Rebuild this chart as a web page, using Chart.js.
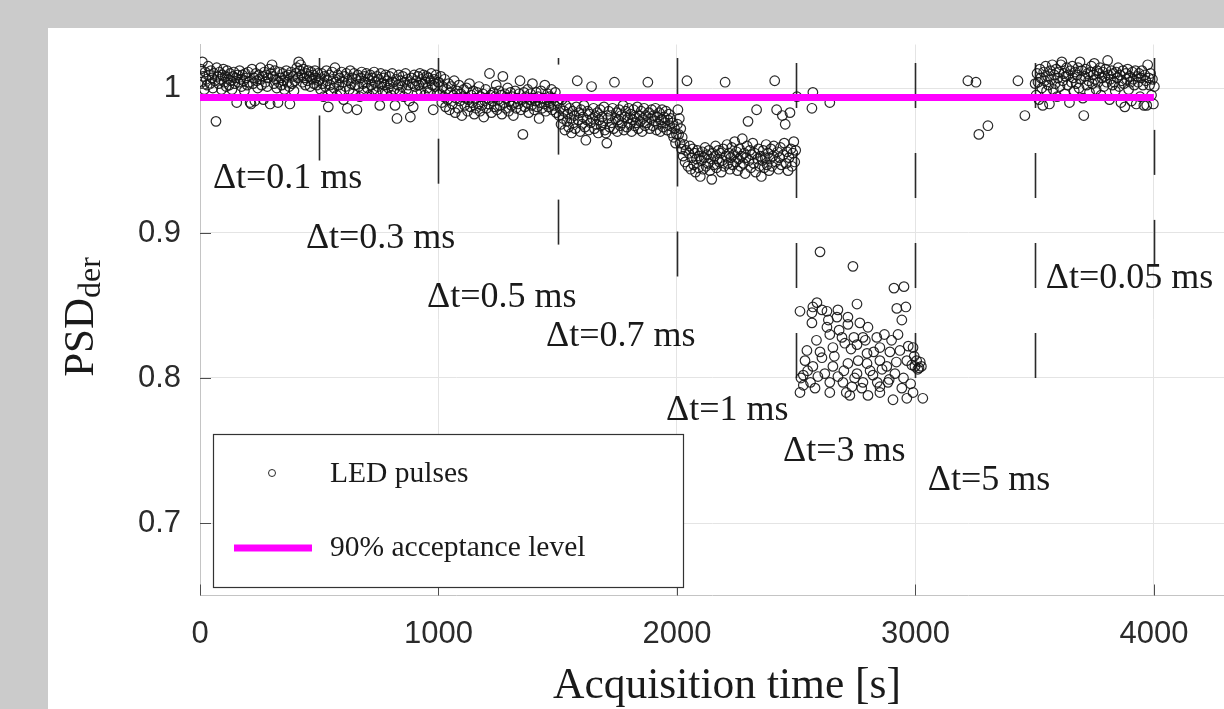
<!DOCTYPE html>
<html><head><meta charset="utf-8">
<script src="https://cdn.jsdelivr.net/npm/chart.js@4.4.1/dist/chart.umd.min.js"></script>
<style>
html,body{margin:0;padding:0;background:#cbcbcb;overflow:hidden;}
#wrap{position:absolute;left:0;top:0;width:1224px;height:709px;}
</style></head><body>
<div id="wrap"><canvas id="c" width="1224" height="709"></canvas></div>
<script>
// ---------- data ----------
// LED pulses: [acquisition time (s), PSD_der]
const segA = [[3,1.013],[7,1.004],[10,1.018],[14,1.008],[18,0.999],[22,1.011],[26,1.006],[30,1.002],[34,1.015],[38,1.009],[42,1.003],[46,1.012],[50,1.007],[54,1.000],[58,1.010],[62,1.005],[67,0.977],[70,1.014],[74,1.008],[78,1.003],[82,1.011],[86,1.006],[90,0.999],[94,1.009],[98,1.013],[102,1.004],[106,1.008],[110,1.001],[114,1.012],[118,1.006],[122,1.002],[126,1.010],[130,1.005],[134,0.999],[138,1.008],[142,1.011],[146,1.003],[150,1.007],[154,0.990],[158,1.009],[162,1.004],[166,1.012],[170,1.006],[174,1.001],[178,1.009],[182,1.005],[186,0.998],[190,1.010],[194,1.007],[198,1.002],[202,1.011],[206,1.004],[210,0.990],[214,0.989],[218,1.013],[222,1.003],[226,1.007],[230,0.991],[234,1.010],[238,1.005],[242,1.000],[246,1.009],[250,1.006],[254,1.014],[258,1.002],[262,1.008],[266,0.992],[270,1.011],[274,1.004],[278,1.009],[282,1.001],[286,1.007],[290,1.013],[294,0.989],[298,1.010],[302,1.016],[306,1.008],[310,1.003],[314,1.012],[318,1.006],[322,1.000],[327,0.990],[330,1.004],[334,1.011],[338,1.007],[342,1.002],[346,1.010],[350,1.005],[354,0.999],[358,1.008],[362,1.012],[366,1.004],[370,1.009],[374,1.001],[377,0.989],[382,1.011],[386,1.003],[390,1.008],[394,0.998],[398,1.005],[402,1.010],[406,1.014],[410,1.007],[414,1.018],[418,1.012],[422,1.016],[426,1.009],[430,1.004],[434,1.013],[438,1.007],[442,1.002],[446,1.010],[450,1.005],[454,1.012],[458,1.008],[462,1.001],[466,1.011],[470,1.006],[474,1.009],[478,1.003],[482,1.012],[486,1.007],[490,1.002],[494,1.010],[498,1.005]];
const segB = [[502,1.006],[506,0.999],[510,1.010],[514,1.003],[518,0.994],[522,1.008],[526,1.001],[530,1.012],[534,1.005],[538,0.987],[542,1.009],[546,1.002],[550,0.997],[554,1.011],[558,1.006],[562,1.000],[566,1.014],[570,1.004],[574,0.995],[578,1.009],[582,1.002],[586,1.007],[590,0.998],[594,1.011],[598,1.004],[602,0.992],[606,1.008],[610,1.001],[614,1.010],[618,0.986],[622,1.005],[626,0.999],[630,1.012],[634,1.003],[638,1.007],[642,0.996],[646,1.010],[650,1.002],[654,1.006],[658,0.985],[662,1.009],[666,1.001],[670,0.994],[674,1.007],[678,1.011],[682,1.003],[686,0.998],[690,1.008],[694,1.004],[698,1.010],[702,1.000],[706,1.006],[710,0.995],[714,1.009],[718,1.002],[722,1.007],[726,0.999],[730,1.011],[734,1.004],[738,0.997],[742,1.008],[746,1.001],[750,1.006],[754,0.988],[758,1.010],[762,1.003],[766,0.998],[770,1.007],[774,1.002],[778,1.009],[782,0.996],[786,1.005],[790,1.000],[794,1.008],[798,1.003],[802,0.995],[806,1.010],[810,1.004],[814,0.999],[818,0.988],[822,1.006],[826,0.979],[830,1.002],[834,1.009],[838,0.997],[842,1.005],[846,1.001],[850,1.008],[854,0.994],[858,1.004],[862,1.010],[866,0.999],[870,1.006],[874,1.002],[878,0.991],[882,0.980],[886,1.007],[890,1.003],[894,0.987],[898,1.009],[902,1.001],[906,1.005],[910,0.996],[914,1.008],[918,1.002],[922,1.010],[926,0.998],[930,1.006],[934,1.003],[938,1.009],[942,0.995],[946,1.004],[950,1.008],[954,1.000],[958,1.007],[962,0.997],[966,1.005],[970,1.010],[974,1.002],[978,0.985],[982,1.006],[986,1.001],[990,1.009],[994,0.996],[998,1.004]];
const segC = [[1002,1.004],[1006,0.996],[1010,1.008],[1014,0.990],[1018,1.001],[1022,0.994],[1026,1.006],[1030,0.987],[1034,0.999],[1038,0.992],[1042,1.003],[1046,0.985],[1050,0.997],[1054,1.001],[1058,0.989],[1062,0.995],[1066,1.005],[1070,0.983],[1074,0.993],[1078,0.998],[1082,0.986],[1086,1.002],[1090,0.991],[1094,0.996],[1098,0.981],[1102,0.994],[1106,0.999],[1110,0.988],[1114,0.993],[1118,1.000],[1122,0.984],[1126,0.992],[1130,1.003],[1134,0.987],[1138,0.995],[1142,0.990],[1146,0.998],[1150,0.982],[1154,0.993],[1158,0.986],[1162,0.997],[1166,0.989],[1170,1.001],[1174,0.984],[1178,0.994],[1182,0.988],[1186,0.996],[1190,0.980],[1194,0.991],[1198,0.999],[1202,0.986],[1206,0.993],[1210,0.989],[1214,1.010],[1218,0.995],[1222,0.983],[1226,0.991],[1230,0.997],[1234,0.987],[1238,0.994],[1242,1.002],[1246,0.985],[1250,0.992],[1254,0.998],[1258,0.988],[1262,0.995],[1266,0.982],[1270,1.008],[1274,0.990],[1278,0.996],[1282,0.986],[1286,0.993],[1290,1.000],[1294,0.984],[1298,0.991],[1302,0.997],[1306,0.988],[1310,0.994],[1314,0.981],[1318,0.990],[1322,0.998],[1326,0.986],[1330,0.993],[1334,0.989],[1338,0.996],[1342,1.005],[1346,0.985],[1350,0.992],[1354,0.968],[1358,0.997],[1362,0.987],[1366,0.994],[1370,0.990],[1374,0.999],[1378,0.983],[1382,0.992],[1386,0.996],[1390,0.988],[1394,1.003],[1398,0.993],[1402,0.985],[1406,0.991],[1410,0.997],[1414,0.987],[1418,0.994],[1422,0.979],[1426,0.990],[1430,0.998],[1434,0.986],[1438,0.993],[1442,0.989],[1446,1.002],[1450,0.984],[1454,0.992],[1458,0.996],[1462,0.987],[1466,0.994],[1470,0.990],[1474,0.999],[1478,0.985],[1482,0.993],[1486,0.988],[1490,0.997],[1494,0.983],[1498,0.991]];
const segD = [[1502,0.990],[1506,0.981],[1510,0.986],[1514,0.975],[1518,0.992],[1522,0.979],[1526,0.984],[1530,0.971],[1534,0.988],[1538,0.977],[1542,0.982],[1546,0.973],[1550,0.986],[1554,0.979],[1558,0.969],[1562,0.984],[1566,0.976],[1570,0.981],[1574,0.972],[1578,0.987],[1582,1.005],[1586,0.978],[1590,0.983],[1594,0.970],[1598,0.985],[1602,0.975],[1606,0.980],[1610,0.988],[1614,0.973],[1618,0.964],[1622,0.978],[1626,0.984],[1630,0.971],[1634,0.982],[1638,0.976],[1642,1.001],[1646,0.979],[1650,0.986],[1654,0.972],[1658,0.981],[1662,0.975],[1666,0.983],[1670,0.969],[1674,0.978],[1678,0.985],[1682,0.974],[1686,0.980],[1690,0.976],[1694,0.987],[1698,0.971],[1702,0.969],[1706,0.962],[1710,0.979],[1714,0.984],[1718,0.973],[1722,0.981],[1726,0.976],[1730,0.986],[1734,0.972],[1738,1.004],[1742,0.979],[1746,0.983],[1750,0.970],[1754,0.978],[1758,0.985],[1762,0.974],[1766,0.981],[1770,0.976],[1774,0.988],[1778,0.971],[1782,0.980],[1786,0.984],[1790,0.973],[1794,0.979],[1798,0.986],[1802,0.975],[1806,0.982],[1810,0.970],[1814,0.978],[1818,0.985],[1822,0.974],[1826,0.980],[1830,0.976],[1834,0.987],[1838,0.972],[1842,0.981],[1846,0.977],[1850,0.984],[1854,0.970],[1858,0.979],[1862,0.986],[1866,0.974],[1870,0.981],[1874,0.976],[1878,1.004],[1882,0.983],[1886,0.972],[1890,0.979],[1894,0.985],[1898,0.974],[1902,0.981],[1906,0.977],[1910,0.986],[1914,0.971],[1918,0.980],[1922,0.975],[1926,0.983],[1930,0.970],[1934,0.978],[1938,0.985],[1942,0.973],[1946,0.980],[1950,0.976],[1954,0.984],[1958,0.971],[1962,0.978],[1966,0.982],[1970,0.974],[1974,0.979],[1978,0.969],[1982,0.976],[1986,0.966],[1990,0.972],[1994,0.962],[1998,0.968]];
const segE = [[2002,0.975],[2004,0.985],[2007,0.968],[2010,0.979],[2013,0.962],[2016,0.972],[2019,0.958],[2022,0.966],[2026,0.953],[2030,0.961],[2034,0.949],[2038,0.957],[2042,1.005],[2046,0.946],[2050,0.955],[2054,0.960],[2058,0.944],[2062,0.952],[2066,0.958],[2070,0.947],[2074,0.955],[2078,0.942],[2082,0.951],[2086,0.957],[2090,0.945],[2094,0.953],[2098,0.939],[2102,0.950],[2106,0.956],[2110,0.944],[2114,0.952],[2118,0.959],[2122,0.946],[2126,0.954],[2130,0.948],[2134,0.957],[2138,0.943],[2142,0.951],[2146,0.937],[2150,0.955],[2154,0.947],[2158,0.953],[2162,0.960],[2166,0.945],[2170,0.951],[2174,0.957],[2178,0.949],[2182,0.955],[2186,0.942],[2190,0.950],[2194,0.958],[2198,0.946],[2202,1.004],[2206,0.953],[2210,0.961],[2214,0.948],[2218,0.955],[2222,0.944],[2226,0.952],[2230,0.959],[2234,0.947],[2238,0.954],[2242,0.963],[2246,0.949],[2250,0.956],[2254,0.943],[2258,0.951],[2262,0.958],[2266,0.946],[2270,0.953],[2274,0.965],[2278,0.948],[2282,0.955],[2286,0.941],[2290,0.952],[2294,0.960],[2298,0.977],[2302,0.950],[2306,0.957],[2310,0.945],[2314,0.954],[2318,0.962],[2322,0.948],[2326,0.955],[2330,0.942],[2334,0.985],[2338,0.951],[2342,0.958],[2346,0.946],[2350,0.953],[2354,0.939],[2358,0.950],[2362,0.957],[2366,0.945],[2370,0.952],[2374,0.961],[2378,0.947],[2382,0.955],[2386,0.943],[2390,0.951],[2394,0.958],[2398,0.946],[2402,0.953],[2406,0.960],[2410,1.005],[2414,0.949],[2418,0.985],[2422,0.956],[2426,0.944],[2430,0.952],[2434,0.959],[2438,0.947],[2442,0.981],[2446,0.954],[2450,0.962],[2454,0.975],[2458,0.948],[2462,0.956],[2466,0.943],[2470,0.952],[2474,0.983],[2478,0.958],[2482,0.946],[2486,0.955],[2490,0.963],[2494,0.949],[2498,0.957]];
const segF = [[2503,0.994],[2516,0.846],[2516,0.790],[2520,0.800],[2530,0.802],[2530,0.795],[2537,0.812],[2545,0.819],[2548,0.805],[2560,0.797],[2566,0.845],[2566,0.838],[2566,0.986],[2570,0.997],[2570,0.808],[2570,0.849],[2579,0.793],[2585,0.826],[2587,0.852],[2591,0.801],[2600,0.887],[2600,0.818],[2608,0.847],[2608,0.814],[2620,0.803],[2629,0.846],[2629,0.835],[2635,0.840],[2641,0.830],[2641,0.797],[2641,0.790],[2641,0.990],[2654,0.821],[2654,0.808],[2660,0.815],[2671,0.842],[2675,0.847],[2675,0.801],[2680,0.833],[2692,0.828],[2696,0.797],[2700,0.805],[2704,0.824],[2710,0.790],[2717,0.837],[2717,0.810],[2717,0.842],[2725,0.788],[2730,0.820],[2734,0.794],[2738,0.877],[2742,0.828],[2745,0.800],[2755,0.851],[2755,0.823],[2755,0.803],[2760,0.812],[2767,0.838],[2775,0.793],[2780,0.828],[2780,0.797],[2790,0.826],[2797,0.817],[2797,0.810],[2801,0.835],[2801,0.788],[2810,0.805],[2822,0.802],[2825,0.818],[2838,0.828],[2840,0.797],[2851,0.821],[2851,0.812],[2851,0.794],[2851,0.790],[2860,0.806],[2870,0.830],[2880,0.808],[2885,0.797],[2890,0.799],[2893,0.818],[2900,0.826],[2906,0.785],[2910,0.862],[2914,0.803],[2920,0.811],[2922,0.848],[2927,0.830],[2935,0.819],[2943,0.840],[2943,0.793],[2950,0.800],[2952,0.863],[2960,0.849],[2964,0.812],[2964,0.786],[2970,0.822],[2980,0.796],[2985,0.809],[2990,0.821],[2990,0.790],[2995,0.815],[2998,0.808],[3005,0.812],[3010,0.806],[3015,0.807],[3020,0.811],[3025,0.808],[3031,0.786]];
const segG = [[3220,1.005],[3254,1.004],[3266,0.968],[3304,0.974],[3430,1.005],[3459,0.981]];
const segH = [[3502,1.003],[3506,0.995],[3510,1.010],[3514,1.004],[3518,0.992],[3522,1.013],[3526,1.007],[3530,1.000],[3534,0.988],[3538,1.011],[3542,1.005],[3546,1.015],[3550,0.998],[3554,1.008],[3558,1.002],[3562,0.989],[3566,1.012],[3570,1.006],[3574,1.016],[3578,0.999],[3582,1.009],[3586,1.003],[3590,1.013],[3594,0.994],[3598,1.007],[3602,1.011],[3606,1.001],[3610,1.016],[3614,1.018],[3618,1.005],[3622,1.010],[3626,0.996],[3630,1.008],[3634,1.014],[3638,1.002],[3642,1.009],[3646,0.990],[3650,1.012],[3654,1.004],[3658,1.015],[3662,1.007],[3666,0.998],[3670,1.011],[3674,1.003],[3678,1.009],[3682,1.014],[3686,1.000],[3690,1.018],[3694,1.006],[3698,1.012],[3702,0.993],[3706,0.981],[3710,1.008],[3714,1.013],[3718,1.002],[3722,1.010],[3726,1.005],[3730,0.997],[3734,1.011],[3738,1.015],[3742,1.003],[3746,1.009],[3750,1.017],[3754,1.006],[3758,0.999],[3762,1.012],[3766,1.004],[3770,1.010],[3774,1.014],[3778,0.995],[3782,1.007],[3786,1.011],[3790,1.001],[3794,1.008],[3798,1.013],[3802,1.004],[3806,1.019],[3810,1.009],[3814,0.992],[3818,1.006],[3822,1.012],[3826,1.002],[3830,1.010],[3834,1.004],[3838,0.998],[3842,1.011],[3846,1.007],[3850,1.014],[3854,1.001],[3858,1.009],[3862,0.990],[3866,1.005],[3870,1.012],[3874,1.003],[3878,0.987],[3882,1.010],[3886,1.006],[3890,1.013],[3894,0.999],[3898,1.008],[3902,1.004],[3906,0.991],[3910,1.011],[3914,1.006],[3918,1.002],[3922,1.012],[3926,0.989],[3930,1.008],[3934,1.004],[3938,1.010],[3942,0.994],[3946,1.007],[3950,1.012],[3954,1.002],[3958,0.988],[3962,1.009],[3966,1.005],[3970,0.988],[3974,1.016],[3978,1.007],[3982,1.002],[3986,1.010],[3990,0.995],[3994,1.006],[3998,0.989],[4002,1.001]];

// 90% acceptance level
const acceptanceLevel = 0.9935;
const acceptanceSpan = [0, 4000];

// axes
const xTicks = [0, 1000, 2000, 3000, 4000];
const yTicks = [0.7, 0.8, 0.9, 1];
const xRange = [0, 4294];
const yRange = [0.65, 1.03];

// interval boundaries (s) and their lower end (PSD)
const boundaries = [500, 1000, 1500, 2000, 2500, 3000, 3500, 4000];
const boundaryLow = [0.950, 0.934, 0.892, 0.870, 0.800, 0.800, 0.800, 0.878];
const boundaryHigh = 1.0207;

// interval labels and their anchor [time, PSD]
const intervalLabels = ['Δt=0.1 ms','Δt=0.3 ms','Δt=0.5 ms','Δt=0.7 ms','Δt=1 ms','Δt=3 ms','Δt=5 ms','Δt=0.05 ms'];
const labelAnchors = [[54,0.931],[444,0.890],[952,0.849],[1451,0.822],[1954,0.771],[2445,0.743],[3052,0.723],[3547,0.862]];

// ---------- drawing ----------
const SERIF = '"Liberation Serif","Times New Roman",serif';
const SANS = '"Liberation Sans",Arial,sans-serif';

const ledPulses = [].concat(segA, segB, segC, segD, segE, segF, segG, segH).map(p => ({x: p[0], y: p[1]}));
const acceptance = acceptanceSpan.map(t => ({x: t, y: acceptanceLevel}));

const background = {
  id: 'background',
  beforeDraw(chart) {
    const c = chart.ctx;
    c.save();
    c.fillStyle = '#cbcbcb';
    c.fillRect(0, 0, chart.width, chart.height);
    c.fillStyle = '#ffffff';
    c.fillRect(48, 28, chart.width - 48, chart.height - 28);
    c.restore();
  }
};

const boundaryLines = {
  id: 'boundaryLines',
  beforeDatasetsDraw(chart) {
    const c = chart.ctx, xs = chart.scales.x, ys = chart.scales.y;
    c.save();
    c.strokeStyle = '#2a2a2a';
    c.lineWidth = 1.6;
    c.setLineDash([45, 45]);
    boundaries.forEach((b, i) => {
      const x = Math.round(xs.getPixelForValue(b)) + 0.5;
      c.beginPath();
      c.moveTo(x, ys.getPixelForValue(boundaryLow[i]));
      c.lineTo(x, ys.getPixelForValue(boundaryHigh));
      c.stroke();
    });
    c.restore();
  }
};

const overlay = {
  id: 'overlay',
  afterDraw(chart) {
    const c = chart.ctx, xs = chart.scales.x, ys = chart.scales.y, a = chart.chartArea;
    c.save();
    // inward ticks
    c.strokeStyle = '#4d4d4d';
    c.lineWidth = 1;
    xTicks.forEach(v => {
      const x = Math.round(xs.getPixelForValue(v)) + 0.5;
      c.beginPath(); c.moveTo(x, a.bottom); c.lineTo(x, a.bottom - 11); c.stroke();
    });
    yTicks.forEach(v => {
      const y = Math.round(ys.getPixelForValue(v)) + 0.5;
      c.beginPath(); c.moveTo(a.left, y); c.lineTo(a.left + 11, y); c.stroke();
    });
    // interval labels
    c.fillStyle = '#1a1a1a';
    c.font = '36px ' + SERIF;
    c.textAlign = 'left';
    c.textBaseline = 'alphabetic';
    intervalLabels.forEach((t, i) => {
      c.fillText(t, xs.getPixelForValue(labelAnchors[i][0]), ys.getPixelForValue(labelAnchors[i][1]));
    });
    // legend
    const ds = chart.data.datasets;
    c.fillStyle = '#ffffff';
    c.fillRect(213.5, 434.5, 470, 153);
    c.strokeStyle = '#333';
    c.lineWidth = 1.2;
    c.strokeRect(213.5, 434.5, 470, 153);
    c.beginPath();
    c.arc(272, 473, 3.5, 0, Math.PI * 2);
    c.strokeStyle = ds[0].borderColor; c.lineWidth = 1; c.stroke();
    c.beginPath();
    c.moveTo(234, 548); c.lineTo(312, 548);
    c.strokeStyle = ds[1].borderColor; c.lineWidth = ds[1].borderWidth; c.stroke();
    c.fillStyle = '#1a1a1a';
    c.font = '29.5px ' + SERIF;
    c.textBaseline = 'middle';
    c.fillText(ds[0].label, 330, 474);
    c.fillText(ds[1].label, 330, 548);
    // x title
    c.font = '43.5px ' + SERIF;
    c.textAlign = 'center';
    c.textBaseline = 'alphabetic';
    c.fillText('Acquisition time [s]', 727, 698);
    // y title with subscript, centred on the plot height
    c.font = '43px ' + SERIF;
    const w1 = c.measureText('PSD').width;
    c.font = '32px ' + SERIF;
    const w2 = c.measureText('der').width;
    const mid = (a.top + a.bottom) / 2 - 3;
    c.translate(93, mid + (w1 + w2) / 2);
    c.rotate(-Math.PI / 2);
    c.textAlign = 'left';
    c.font = '43px ' + SERIF;
    c.fillText('PSD', 0, 0);
    c.font = '32px ' + SERIF;
    c.fillText('der', w1, 7);
    c.restore();
  }
};

new Chart(document.getElementById('c'), {
  data: {
    datasets: [
      {
        type: 'scatter', label: 'LED pulses', data: ledPulses,
        pointStyle: 'circle', pointRadius: 4.8, pointBorderWidth: 1.2,
        borderColor: 'rgba(20,20,20,0.9)', backgroundColor: 'rgba(0,0,0,0)',
        pointBackgroundColor: 'rgba(0,0,0,0)', order: 1
      },
      {
        type: 'line', label: '90% acceptance level', data: acceptance,
        borderColor: '#ff00ff', borderWidth: 7, pointRadius: 0, fill: false, order: 0
      }
    ]
  },
  options: {
    responsive: false, animation: false, events: [],
    layout: {autoPadding: false, padding: {left: 0, right: 0, top: 44.5, bottom: 0}},
    plugins: {legend: {display: false}, tooltip: {enabled: false}},
    scales: {
      x: {
        type: 'linear', position: 'bottom', min: xRange[0], max: xRange[1],
        afterFit(s) { s.height = 113.5; s.paddingLeft = 0; s.paddingRight = 0; },
        afterBuildTicks(s) { s.ticks = xTicks.map(v => ({value: v})); },
        ticks: {font: {family: SANS, size: 31}, color: '#2b2b2b', padding: 20, maxRotation: 0, autoSkip: false, callback: v => String(v)},
        grid: {color: '#e4e4e4', lineWidth: 1, drawTicks: false},
        border: {color: '#c4c4c4'}
      },
      y: {
        type: 'linear', position: 'left', min: yRange[0], max: yRange[1],
        afterFit(s) { s.width = 200; s.paddingTop = 0; s.paddingBottom = 0; },
        afterBuildTicks(s) { s.ticks = yTicks.map(v => ({value: v})); },
        ticks: {font: {family: SANS, size: 31}, color: '#2b2b2b', padding: 19, callback: v => String(+v.toFixed(2))},
        grid: {color: '#e4e4e4', lineWidth: 1, drawTicks: false},
        border: {color: '#c4c4c4'}
      }
    }
  },
  plugins: [background, boundaryLines, overlay]
});
</script>
</body></html>
